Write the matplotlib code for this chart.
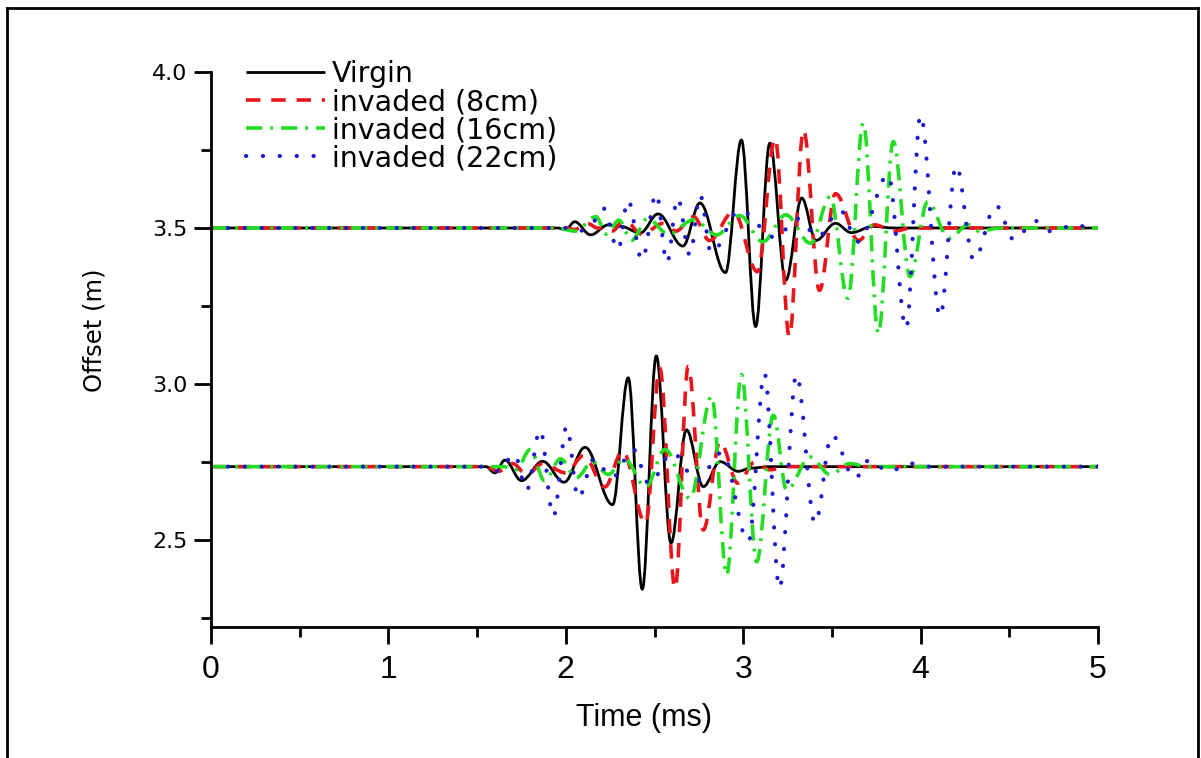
import matplotlib
matplotlib.use("Agg")
import matplotlib.pyplot as plt
from matplotlib.ticker import MultipleLocator
from matplotlib.lines import Line2D
from matplotlib.path import Path
from matplotlib.patches import PathPatch

# ---- data (extrema of each trace) ----
labels = ["Virgin", "invaded (8cm)", "invaded (16cm)", "invaded (22cm)"]

# upper receiver (offset 3.5 m)
virgin_top_t = [0, 1.95, 2.00, 2.05, 2.14, 2.24, 2.31, 2.42, 2.52, 2.66, 2.756, 2.90, 2.99,
                3.07, 3.15, 3.24, 3.33, 3.41, 3.52, 3.61, 3.73, 3.85, 5.0]
virgin_top_v = [3.50, 3.50, 3.495, 3.52, 3.478, 3.51, 3.505, 3.484, 3.545, 3.442, 3.58, 3.357,
                3.782, 3.184, 3.772, 3.333, 3.596, 3.46, 3.515, 3.485, 3.505, 3.50, 3.50]

inv8_top_t = [0, 2.00, 2.05, 2.12, 2.18, 2.26, 2.33, 2.43, 2.55, 2.62, 2.72, 2.81, 2.945,
              3.08, 3.18, 3.26, 3.34, 3.43, 3.52, 3.65, 3.74, 3.85, 3.95, 5.0]
inv8_top_v = [3.50, 3.50, 3.495, 3.515, 3.50, 3.49, 3.525, 3.48, 3.515, 3.49, 3.536, 3.46,
              3.552, 3.36, 3.787, 3.152, 3.814, 3.30, 3.61, 3.46, 3.51, 3.49, 3.50, 3.50]

inv16_top_t = [0, 1.95, 2.05, 2.17, 2.23, 2.30, 2.37, 2.46, 2.58, 2.72, 2.85, 2.98, 3.11,
               3.24, 3.38, 3.49, 3.59, 3.677, 3.762, 3.846, 3.94, 4.04, 4.16, 4.27, 4.33,
               4.45, 5.0]
inv16_top_v = [3.50, 3.50, 3.49, 3.536, 3.48, 3.525, 3.46, 3.53, 3.48, 3.526, 3.478, 3.54,
               3.456, 3.542, 3.451, 3.60, 3.275, 3.836, 3.162, 3.777, 3.344, 3.584, 3.467,
               3.51, 3.49, 3.50, 3.50]

inv22_top_t = [0, 2.00, 2.08, 2.14, 2.21, 2.295, 2.35, 2.43, 2.51, 2.57, 2.63, 2.70, 2.757,
               2.82, 2.98, 3.18, 3.31, 3.42, 3.546, 3.647, 3.818, 3.918, 4.00, 4.11, 4.20,
               4.30, 4.425, 4.527, 4.645, 4.73, 4.88, 4.95, 5.0]
inv22_top_v = [3.50, 3.50, 3.49, 3.51, 3.564, 3.43, 3.59, 3.397, 3.611, 3.388, 3.596, 3.413,
               3.606, 3.42, 3.557, 3.47, 3.53, 3.472, 3.557, 3.456, 3.67, 3.178, 3.862, 3.216,
               3.70, 3.397, 3.572, 3.462, 3.523, 3.49, 3.51, 3.50, 3.50]

# lower receiver (offset ~2.74 m)
virgin_bot_t = [0, 1.55, 1.60, 1.657, 1.75, 1.87, 1.99, 2.108, 2.264, 2.352, 2.431, 2.51,
                2.593, 2.68, 2.775, 2.87, 2.972, 3.04, 3.15, 5.0]
virgin_bot_v = [2.735, 2.735, 2.715, 2.756, 2.69, 2.752, 2.685, 2.797, 2.613, 3.02, 2.342,
                3.09, 2.49, 2.853, 2.671, 2.751, 2.72, 2.73, 2.735, 2.735]

inv8_bot_t = [0, 1.55, 1.62, 1.70, 1.78, 1.87, 2.00, 2.10, 2.22, 2.32, 2.45, 2.53, 2.616,
              2.69, 2.775, 2.87, 2.97, 3.066, 3.15, 3.25, 5.0]
inv8_bot_v = [2.735, 2.735, 2.72, 2.745, 2.71, 2.745, 2.715, 2.77, 2.67, 2.785, 2.553, 3.05,
              2.345, 3.056, 2.532, 2.815, 2.682, 2.75, 2.725, 2.735, 2.735]

inv16_bot_t = [0, 1.55, 1.65, 1.72, 1.80, 1.88, 1.97, 2.06, 2.15, 2.24, 2.33, 2.45, 2.56,
               2.70, 2.822, 2.907, 2.99, 3.076, 3.17, 3.245, 3.377, 3.49, 3.60, 3.70, 5.0]
inv16_bot_v = [2.735, 2.735, 2.735, 2.725, 2.79, 2.69, 2.76, 2.70, 2.75, 2.71, 2.76, 2.67,
               2.79, 2.633, 2.96, 2.388, 3.03, 2.43, 2.90, 2.66, 2.766, 2.71, 2.745, 2.735,
               2.735]

inv22_bot_t = [0, 1.55, 1.62, 1.71, 1.78, 1.855, 1.93, 2.005, 2.07, 2.16, 2.26, 2.38, 2.47,
               2.60, 2.74, 2.88, 3.03, 3.12, 3.204, 3.30, 3.405, 3.50, 3.63, 3.71, 3.82,
               3.95, 4.05, 5.0]
inv22_bot_v = [2.735, 2.735, 2.72, 2.775, 2.66, 2.853, 2.575, 2.864, 2.634, 2.76, 2.70,
               2.79, 2.68, 2.78, 2.69, 2.78, 2.495, 3.034, 2.345, 3.03, 2.553, 2.836, 2.697,
               2.756, 2.72, 2.745, 2.735, 2.735]

x_ticks = [0, 1, 2, 3, 4, 5]
y_ticks = [2.5, 3.0, 3.5, 4.0]


def smooth_path(ts, vs):
    """Cubic Bezier path through the read extrema, horizontal tangent at each one."""
    verts = [(ts[0], vs[0])]
    codes = [Path.MOVETO]
    k = 1 - 2 / 3.141592653589793
    for i in range(1, len(ts)):
        t0, v0, t1, v1 = ts[i - 1], vs[i - 1], ts[i], vs[i]
        d = (t1 - t0) * k
        verts += [(t0 + d, v0), (t1 - d, v1), (t1, v1)]
        codes += [Path.CURVE4] * 3
    return Path(verts, codes)


# ---- figure ----
fig = plt.figure(figsize=(12.01, 7.58), dpi=100)
ax = fig.add_axes([211/1201, 1 - 627/758, (1098-211)/1201, (627-72)/758])

styles = [
    dict(color="black", lw=2.0, ls="-", cap="butt"),
    dict(color="#e8161b", lw=2.6, ls=(0, (4, 3)), cap="butt"),
    dict(color="#22dd22", lw=2.6, ls=(0, (4.5, 2.2, 0.8, 2.2)), cap="butt"),
    dict(color="#1a1acc", lw=3.0, ls=(0, (0.05, 4.0)), cap="round"),
]

series = [
    (virgin_top_t, virgin_top_v, virgin_bot_t, virgin_bot_v),
    (inv8_top_t, inv8_top_v, inv8_bot_t, inv8_bot_v),
    (inv16_top_t, inv16_top_v, inv16_bot_t, inv16_bot_v),
    (inv22_top_t, inv22_top_v, inv22_bot_t, inv22_bot_v),
]

handles = []
for (tt, tv, bt, bv), st, lab in zip(series, styles, labels):
    for ts, vs in ((tt, tv), (bt, bv)):
        p = PathPatch(smooth_path(ts, vs), facecolor="none", edgecolor=st["color"],
                      lw=st["lw"], ls=st["ls"], capstyle=st["cap"], joinstyle="round")
        ax.add_patch(p)
    h = Line2D([], [], color=st["color"], lw=st["lw"], ls=st["ls"],
               dash_capstyle=st["cap"], solid_capstyle="butt", label=lab)
    handles.append(h)

ax.set_xlim(0, 5)
ax.set_ylim(2.221, 4.0)
ax.set_xticks(x_ticks)
ax.set_yticks(y_ticks)
ax.set_yticklabels([f"{v:.1f}" for v in y_ticks])
ax.xaxis.set_minor_locator(MultipleLocator(0.5))
ax.yaxis.set_minor_locator(MultipleLocator(0.25))

for s in ["top", "right"]:
    ax.spines[s].set_visible(False)
for s in ["left", "bottom"]:
    ax.spines[s].set_linewidth(2.0)

ax.tick_params(axis="both", which="major", direction="out", length=12, width=2.0)
ax.tick_params(axis="both", which="minor", direction="out", length=7, width=2.0)
ax.tick_params(axis="x", which="major", pad=8)
ax.tick_params(axis="y", which="major", pad=5)

narrow = ["Liberation Sans Narrow", "Liberation Sans", "DejaVu Sans"]
wide = ["DejaVu Sans"]
for lbl in ax.get_xticklabels():
    lbl.set_fontfamily(narrow)
    lbl.set_fontsize(23)
for lbl in ax.get_yticklabels():
    lbl.set_fontfamily(wide)
    lbl.set_fontsize(16)

ax.set_xlabel("Time (ms)", fontsize=22, family=["Liberation Sans", "DejaVu Sans"])
ax.xaxis.set_label_coords(0.488, -0.137)
ax.set_ylabel("Offset (m)", fontsize=17.5, family=wide)
ax.yaxis.set_label_coords(-0.118, 0.535)

leg = ax.legend(handles=handles, loc="upper left", bbox_to_anchor=(0.027, 1.042),
                frameon=False, prop={"family": wide, "size": 20.5}, handlelength=2.75,
                handletextpad=0.25, labelspacing=0.0, borderaxespad=0)

# outer border of the figure
for xs, ys in (([7/1201, 7/1201], [0, 1 - 8/758]),
               ([7/1201, 1198/1201], [1 - 8/758, 1 - 8/758]),
               ([1198/1201, 1198/1201], [0, 1 - 8/758])):
    fig.add_artist(Line2D(xs, ys, color="black", lw=2, transform=fig.transFigure))

fig.savefig("out.png", dpi=100)
